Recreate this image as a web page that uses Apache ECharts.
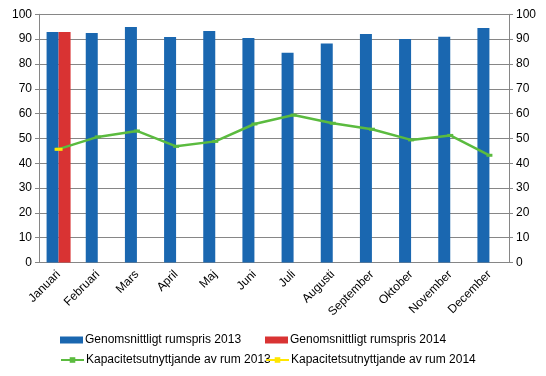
<!DOCTYPE html>
<html><head><meta charset="utf-8">
<script src="https://cdn.jsdelivr.net/npm/echarts@6/dist/echarts.min.js"></script>
<style>html,body{margin:0;padding:0;background:#fff}#c{width:546px;height:376px}</style>
</head><body><div id="c"></div>
<script>
const months = ['Januari','Februari','Mars','April','Maj','Juni','Juli','Augusti','September','Oktober','November','December'];
const price2013 = [92.9, 92.5, 94.9, 90.9, 93.3, 90.5, 84.5, 88.2, 92.1, 90.0, 91.0, 94.5];
const price2014 = [92.9, null, null, null, null, null, null, null, null, null, null, null];
const occ2013 = [45.7, 50.6, 53.0, 46.8, 48.8, 55.8, 59.4, 56.1, 53.7, 49.4, 51.2, 43.2];
const occ2014 = [45.6, null, null, null, null, null, null, null, null, null, null, null];
const names = ['Genomsnittligt rumspris 2013','Genomsnittligt rumspris 2014','Kapacitetsutnyttjande av rum 2013','Kapacitetsutnyttjande av rum 2014'];

const font = 'Liberation Sans, Arial, sans-serif';
const axisGray = '#868686';
const chart = echarts.init(document.getElementById('c'), null, {renderer:'canvas'});
const legendBase = {itemWidth:23, itemHeight:7, itemGap:0, textStyle:{fontFamily:font, fontSize:12, color:'#000', padding:[0,0,0,-3]}, padding:0};
chart.setOption({
  animation:false,
  textStyle:{fontFamily:font},
  grid:{left:39, right:37, top:14.3, bottom:113.5, containLabel:false},
  legend:[
    Object.assign({}, legendBase, {data:[{name:names[0], icon:'rect'}], left:60, top:334}),
    Object.assign({}, legendBase, {data:[{name:names[1], icon:'rect'}], left:265, top:334}),
    Object.assign({}, legendBase, {data:[names[2]], left:60, top:354}),
    Object.assign({}, legendBase, {data:[names[3]], left:265, top:354})
  ],
  xAxis:{type:'category', data:months, boundaryGap:true,
    axisLine:{lineStyle:{color:axisGray}},
    axisTick:{length:4, lineStyle:{color:axisGray}},
    axisLabel:{rotate:45, fontSize:12, color:'#000', fontFamily:font, margin:10, interval:0}},
  yAxis:[
    {type:'value', min:0, max:100, interval:10, position:'left',
     axisLine:{show:true, lineStyle:{color:axisGray}},
     axisTick:{show:true, length:4, lineStyle:{color:axisGray}},
     splitLine:{lineStyle:{color:axisGray, width:1}},
     axisLabel:{fontSize:12, color:'#000', fontFamily:font, margin:7}},
    {type:'value', min:0, max:100, interval:10, position:'right',
     axisLine:{show:true, lineStyle:{color:axisGray}},
     axisTick:{show:true, length:4, lineStyle:{color:axisGray}},
     splitLine:{show:false},
     axisLabel:{fontSize:12, color:'#000', fontFamily:font, margin:7}}
  ],
  series:[
    {name:names[0], type:'bar', data:price2013, barWidth:12, barGap:'0%', itemStyle:{color:'#1a67b0'}},
    {name:names[1], type:'bar', data:price2014, barWidth:12, barGap:'0%', itemStyle:{color:'#d93333'}},
    {name:names[2], type:'line', data:occ2013, symbol:'rect', symbolSize:[6,3], showSymbol:true,
     lineStyle:{color:'#5bbb3f', width:2.5}, itemStyle:{color:'#5bbb3f'}, z:5},
    {name:names[3], type:'line', data:occ2014, symbol:'rect', symbolSize:[8,3], showSymbol:true,
     lineStyle:{color:'#ffe600', width:2.5}, itemStyle:{color:'#ffe600'}, z:6}
  ]
});
</script></body></html>
